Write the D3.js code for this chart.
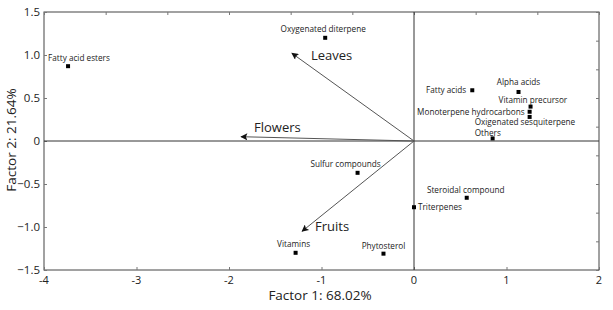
<!DOCTYPE html>
<html>
<head>
<meta charset="utf-8">
<script src="https://cdnjs.cloudflare.com/ajax/libs/d3/7.8.5/d3.min.js"></script>
<style>
  body { margin: 0; background: #fff; }
  text { font-family: "Open Sans", "Noto Sans", sans-serif; fill: #222; }
</style>
</head>
<body>
<svg id="chart" width="613" height="310"></svg>
<script>
// compound groups (PCA scores)
var compounds = ["Fatty acid esters", "Oxygenated diterpene", "Fatty acids", "Alpha acids",
  "Vitamin precursor", "Monoterpene hydrocarbons", "Oxigenated sesquiterpene", "Others",
  "Sulfur compounds", "Steroidal compound", "Triterpenes", "Phytosterol", "Vitamins"];
var factor1 = [-3.74, -0.96, 0.63, 1.13, 1.26, 1.25, 1.25, 0.85, -0.61, 0.57, 0.0, -0.33, -1.28];
var factor2 = [0.87, 1.20, 0.59, 0.57, 0.40, 0.34, 0.28, 0.03, -0.37, -0.66, -0.77, -1.31, -1.30];

// plant organ loadings (arrows)
var organs = ["Leaves", "Flowers", "Fruits"];
var organX = [-1.32, -1.87, -1.21];
var organY = [1.02, 0.05, -1.05];

var xTicks = [-4, -3, -2, -1, 0, 1, 2];
var yTicks = [1.5, 1.0, 0.5, 0, -0.5, -1.0, -1.5];
var xTitle = "Factor 1: 68.02%";
var yTitle = "Factor 2: 21.64%";

// label placement [dx, dy, anchor] relative to each point
var labelPos = {
  "Fatty acid esters": [-20, -5, "start"],
  "Oxygenated diterpene": [-2, -6, "middle"],
  "Fatty acids": [-6, 3, "end"],
  "Alpha acids": [0, -7, "middle"],
  "Vitamin precursor": [-32, -4, "start"],
  "Monoterpene hydrocarbons": [-5, 3, "end"],
  "Oxigenated sesquiterpene": [-55, 8, "start"],
  "Others": [-18, -2, "start"],
  "Sulfur compounds": [-12, -6, "middle"],
  "Steroidal compound": [-1, -5, "middle"],
  "Triterpenes": [4, 3, "start"],
  "Phytosterol": [0, -5, "middle"],
  "Vitamins": [-2, -6, "middle"]
};
var organLabelPos = {
  "Leaves": [19, 7],
  "Flowers": [13, -5],
  "Fruits": [13, 0]
};

var svg = d3.select("#chart");
var mLeft = 44, mRight = 599, mTop = 12, mBottom = 270;

var x = d3.scaleLinear().domain([-4, 2]).range([mLeft, mRight]);
var y = d3.scaleLinear().domain([-1.5, 1.5]).range([mBottom, mTop]);

var axisColor = "#444";

// frame
svg.append("rect")
  .attr("x", mLeft).attr("y", mTop)
  .attr("width", mRight - mLeft).attr("height", mBottom - mTop)
  .attr("fill", "none").attr("stroke", axisColor).attr("stroke-width", 1);

// inner tick marks
var g = svg.append("g");
g.append("g").attr("transform", "translate(0," + mBottom + ")")
  .call(d3.axisBottom(x).tickValues(xTicks).tickSize(-3).tickFormat(""))
  .call(s => s.select(".domain").remove());
g.append("g").attr("transform", "translate(" + mLeft + ",0)")
  .call(d3.axisLeft(y).tickValues(yTicks).tickSize(-3).tickFormat(""))
  .call(s => s.select(".domain").remove());
var topTicks = d3.range(0, 10).map(i => -4 + i * 2 / 3);
g.append("g").attr("transform", "translate(0," + mTop + ")")
  .call(d3.axisTop(x).tickValues(topTicks).tickSize(-3).tickFormat(""))
  .call(s => s.select(".domain").remove());
var rightTicks = d3.range(0, 10).map(i => -1.5 + i / 3);
g.append("g").attr("transform", "translate(" + mRight + ",0)")
  .call(d3.axisRight(y).tickValues(rightTicks).tickSize(-3).tickFormat(""))
  .call(s => s.select(".domain").remove());
g.selectAll(".tick line").attr("stroke", "#777");

// tick labels
svg.selectAll(".xlab").data(xTicks).enter().append("text")
  .attr("x", d => x(d)).attr("y", mBottom + 14)
  .attr("text-anchor", "middle").attr("font-size", 11)
  .text(d => d);
svg.selectAll(".ylab").data(yTicks).enter().append("text")
  .attr("x", mLeft - 4).attr("y", d => y(d) + 4)
  .attr("text-anchor", "end").attr("font-size", 11.5)
  .text(d => d === 0 ? "0" : d3.format(".1f")(d));

// zero lines
svg.append("line")
  .attr("x1", mLeft).attr("x2", mRight).attr("y1", y(0)).attr("y2", y(0))
  .attr("stroke", "#333").attr("stroke-width", 1);
svg.append("line")
  .attr("x1", x(0)).attr("x2", x(0)).attr("y1", mTop).attr("y2", mBottom)
  .attr("stroke", "#333").attr("stroke-width", 1);

// axis titles
svg.append("text")
  .attr("x", 320).attr("y", 300)
  .attr("text-anchor", "middle").attr("font-size", 13.5)
  .text(xTitle);
svg.append("text")
  .attr("transform", "translate(16," + 140 + ") rotate(-90)")
  .attr("text-anchor", "middle").attr("font-size", 13.5)
  .text(yTitle);

// arrows
svg.append("defs").append("marker")
  .attr("id", "head").attr("viewBox", "0 0 10 10")
  .attr("refX", 9).attr("refY", 5)
  .attr("markerWidth", 9).attr("markerHeight", 7)
  .attr("markerUnits", "userSpaceOnUse")
  .attr("orient", "auto")
  .append("path").attr("d", "M0,0 L10,5 L0,10 L2,5 Z").attr("fill", "#111");

organs.forEach(function (name, i) {
  var tx = x(organX[i]), ty = y(organY[i]);
  svg.append("line")
    .attr("x1", x(0)).attr("y1", y(0)).attr("x2", tx).attr("y2", ty)
    .attr("stroke", "#555").attr("stroke-width", 1)
    .attr("marker-end", "url(#head)");
  var p = organLabelPos[name];
  svg.append("text")
    .attr("x", tx + p[0]).attr("y", ty + p[1])
    .attr("font-size", 13)
    .text(name);
});

// points
svg.selectAll(".pt").data(compounds).enter().append("rect")
  .attr("x", (d, i) => x(factor1[i]) - 2)
  .attr("y", (d, i) => y(factor2[i]) - 2)
  .attr("width", 4).attr("height", 4)
  .attr("fill", "#000");

svg.selectAll(".plab").data(compounds).enter().append("text")
  .attr("x", (d, i) => x(factor1[i]) + labelPos[d][0])
  .attr("y", (d, i) => y(factor2[i]) + labelPos[d][1])
  .attr("text-anchor", d => labelPos[d][2])
  .attr("font-size", 8.2)
  .text(d => d);
</script>
</body>
</html>
